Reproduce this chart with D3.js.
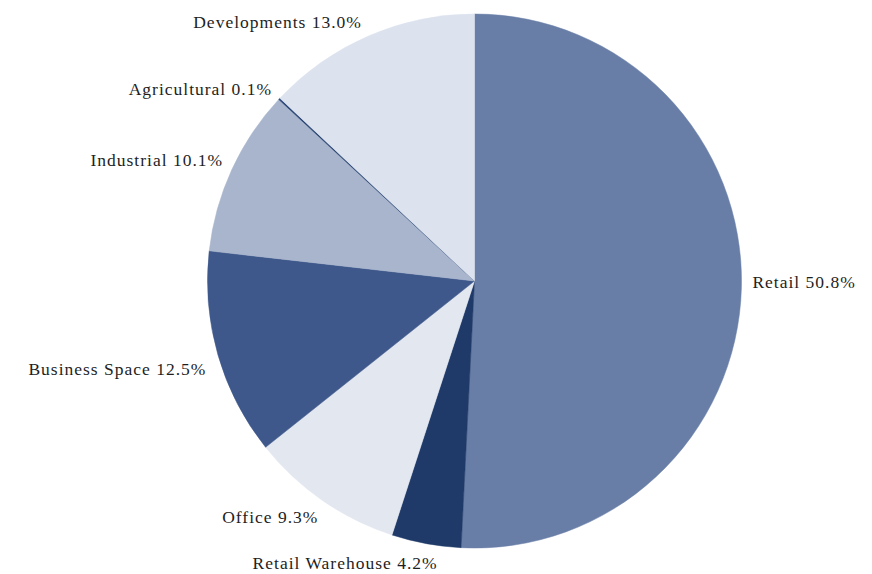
<!DOCTYPE html>
<html>
<head>
<meta charset="utf-8">
<script src="https://cdn.jsdelivr.net/npm/d3@7"></script>
<style>
  html, body { margin: 0; padding: 0; background: #ffffff; }
  svg { display: block; }
  .label { font-family: "Liberation Serif", "DejaVu Serif", serif; font-size: 17.5px; fill: #1e1e1e; letter-spacing: 1px; }
</style>
</head>
<body>
<div id="chart"></div>
<script>
// Portfolio split by property sector (% of value)
const categories = ["Retail", "Retail Warehouse", "Office", "Business Space", "Industrial", "Agricultural", "Developments"];
const shares = [50.8, 4.2, 9.3, 12.5, 10.1, 0.1, 13.0];
const sliceColors = ["#687ea7", "#1f3a69", "#e3e7f0", "#3e588b", "#a8b5cd", "#2b4674", "#dde3ee"];

// Small hand nudges for each label, in pixels, relative to the slice's outer anchor
const labelNudge = {
  "Retail": [-3, 0],
  "Retail Warehouse": [14, 12],
  "Office": [4, 11],
  "Business Space": [2, 16],
  "Industrial": [4, 2],
  "Agricultural": [3, 6],
  "Developments": [-1, 5]
};

const width = 872, height = 574;
const cx = 474.5, cy = 281, radius = 267;

const svg = d3.select("#chart").append("svg")
  .attr("width", width).attr("height", height);

const g = svg.append("g").attr("transform", `translate(${cx},${cy})`);

const data = categories.map((c, i) => ({ name: c, value: shares[i], color: sliceColors[i] }));

const pie = d3.pie().sort(null).value(d => d.value);
const arcs = pie(data);

const arc = d3.arc().innerRadius(0).outerRadius(radius);
const labelArc = d3.arc().innerRadius(radius + 14).outerRadius(radius + 14);

g.selectAll("path.slice")
  .data(arcs)
  .join("path")
  .attr("class", "slice")
  .attr("d", arc)
  .attr("fill", d => d.data.color)
  .attr("stroke", d => d.data.color)
  .attr("stroke-width", 0.5);

g.selectAll("text.label")
  .data(arcs)
  .join("text")
  .attr("class", "label")
  .attr("x", d => labelArc.centroid(d)[0] + labelNudge[d.data.name][0])
  .attr("y", d => labelArc.centroid(d)[1] + labelNudge[d.data.name][1])
  .attr("text-anchor", d => ((d.startAngle + d.endAngle) / 2 < Math.PI ? "start" : "end"))
  .text(d => `${d.data.name} ${d3.format(".1f")(d.data.value)}%`);
</script>
</body>
</html>
